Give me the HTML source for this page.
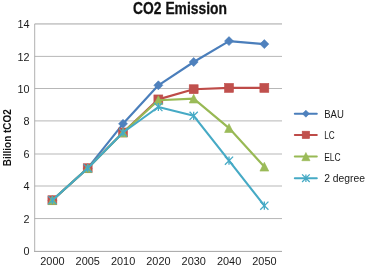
<!DOCTYPE html>
<html><head><meta charset="utf-8"><title>CO2 Emission</title>
<style>
html,body{margin:0;padding:0;background:#fff;}
body{width:367px;height:267px;overflow:hidden;position:relative;font-family:"Liberation Sans",sans-serif;}
svg text{font-family:"Liberation Sans",sans-serif;fill:#1a1a1a;}
.t{font-size:10.8px;}
.ti{font-size:16.4px;font-weight:bold;fill:#111;stroke:#111;stroke-width:0.3px;}
.yt{font-size:11px;font-weight:bold;fill:#111;}
</style></head><body>
<svg width="367" height="267" viewBox="0 0 367 267" style="position:absolute;left:0;top:0;filter:blur(0.3px)">
<rect width="367" height="267" fill="#ffffff"/>
<line x1="34.7" x2="282.0" y1="218.55" y2="218.55" stroke="#a4a4a4" stroke-width="0.8"/>
<line x1="34.7" x2="282.0" y1="186.00" y2="186.00" stroke="#a4a4a4" stroke-width="0.8"/>
<line x1="34.7" x2="282.0" y1="154.00" y2="154.00" stroke="#a4a4a4" stroke-width="0.8"/>
<line x1="34.7" x2="282.0" y1="120.90" y2="120.90" stroke="#a4a4a4" stroke-width="0.8"/>
<line x1="34.7" x2="282.0" y1="88.50" y2="88.50" stroke="#a4a4a4" stroke-width="0.8"/>
<line x1="34.7" x2="282.0" y1="56.40" y2="56.40" stroke="#a4a4a4" stroke-width="0.8"/>
<line x1="34.7" x2="282.0" y1="23.95" y2="23.95" stroke="#8e8e8e" stroke-width="0.8"/>
<line x1="34.7" x2="34.7" y1="23.95" y2="251.0" stroke="#a8a8a8" stroke-width="0.9"/>
<line x1="34.0" x2="282.0" y1="251.4" y2="251.4" stroke="#9a9a9a" stroke-width="0.9"/>
<text x="29.5" y="255.40" text-anchor="end" class="t">0</text>
<text x="29.5" y="222.95" text-anchor="end" class="t">2</text>
<text x="29.5" y="190.40" text-anchor="end" class="t">4</text>
<text x="29.5" y="158.40" text-anchor="end" class="t">6</text>
<text x="29.5" y="125.30" text-anchor="end" class="t">8</text>
<text x="29.5" y="92.90" text-anchor="end" class="t">10</text>
<text x="29.5" y="60.80" text-anchor="end" class="t">12</text>
<text x="29.5" y="28.35" text-anchor="end" class="t">14</text>
<text x="52.46" y="265.0" text-anchor="middle" class="t" textLength="24.3" lengthAdjust="spacingAndGlyphs">2000</text>
<text x="87.79" y="265.0" text-anchor="middle" class="t" textLength="24.3" lengthAdjust="spacingAndGlyphs">2005</text>
<text x="123.12" y="265.0" text-anchor="middle" class="t" textLength="24.3" lengthAdjust="spacingAndGlyphs">2010</text>
<text x="158.45" y="265.0" text-anchor="middle" class="t" textLength="24.3" lengthAdjust="spacingAndGlyphs">2020</text>
<text x="193.78" y="265.0" text-anchor="middle" class="t" textLength="24.3" lengthAdjust="spacingAndGlyphs">2030</text>
<text x="229.11" y="265.0" text-anchor="middle" class="t" textLength="24.3" lengthAdjust="spacingAndGlyphs">2040</text>
<text x="264.44" y="265.0" text-anchor="middle" class="t" textLength="24.3" lengthAdjust="spacingAndGlyphs">2050</text>
<text x="180" y="13.7" text-anchor="middle" class="ti" textLength="93.8" lengthAdjust="spacingAndGlyphs">CO2 Emission</text>
<text transform="translate(11.0,137.7) rotate(-90)" text-anchor="middle" class="yt" textLength="57" lengthAdjust="spacingAndGlyphs">Billion tCO2</text>
<polyline points="52.36,200.20 87.69,168.20 123.02,123.80 158.35,85.30 193.68,62.00 229.01,41.10 264.34,44.10" fill="none" stroke="#4A7EBB" stroke-width="2.15" stroke-linejoin="round" stroke-linecap="round"/>
<path d="M52.36 195.70L56.86 200.20L52.36 204.70L47.86 200.20Z" fill="#4F81BD" stroke="#4A7EBB" stroke-width="0.6"/>
<path d="M87.69 163.70L92.19 168.20L87.69 172.70L83.19 168.20Z" fill="#4F81BD" stroke="#4A7EBB" stroke-width="0.6"/>
<path d="M123.02 119.30L127.52 123.80L123.02 128.30L118.52 123.80Z" fill="#4F81BD" stroke="#4A7EBB" stroke-width="0.6"/>
<path d="M158.35 80.80L162.85 85.30L158.35 89.80L153.85 85.30Z" fill="#4F81BD" stroke="#4A7EBB" stroke-width="0.6"/>
<path d="M193.68 57.50L198.18 62.00L193.68 66.50L189.18 62.00Z" fill="#4F81BD" stroke="#4A7EBB" stroke-width="0.6"/>
<path d="M229.01 36.60L233.51 41.10L229.01 45.60L224.51 41.10Z" fill="#4F81BD" stroke="#4A7EBB" stroke-width="0.6"/>
<path d="M264.34 39.60L268.84 44.10L264.34 48.60L259.84 44.10Z" fill="#4F81BD" stroke="#4A7EBB" stroke-width="0.6"/>
<polyline points="52.36,200.20 87.69,168.20 123.02,132.50 158.35,99.40 193.68,89.20 229.01,87.90 264.34,87.90" fill="none" stroke="#BE4B48" stroke-width="2.15" stroke-linejoin="round" stroke-linecap="round"/>
<rect x="47.91" y="195.75" width="8.90" height="8.90" fill="#C0504D" stroke="#BE4B48" stroke-width="0.6"/>
<rect x="83.24" y="163.75" width="8.90" height="8.90" fill="#C0504D" stroke="#BE4B48" stroke-width="0.6"/>
<rect x="118.57" y="128.05" width="8.90" height="8.90" fill="#C0504D" stroke="#BE4B48" stroke-width="0.6"/>
<rect x="153.90" y="94.95" width="8.90" height="8.90" fill="#C0504D" stroke="#BE4B48" stroke-width="0.6"/>
<rect x="189.23" y="84.75" width="8.90" height="8.90" fill="#C0504D" stroke="#BE4B48" stroke-width="0.6"/>
<rect x="224.56" y="83.45" width="8.90" height="8.90" fill="#C0504D" stroke="#BE4B48" stroke-width="0.6"/>
<rect x="259.89" y="83.45" width="8.90" height="8.90" fill="#C0504D" stroke="#BE4B48" stroke-width="0.6"/>
<polyline points="52.36,200.20 87.69,168.20 123.02,132.50 158.35,100.20 193.68,98.60 229.01,128.10 264.34,166.70" fill="none" stroke="#98B954" stroke-width="2.15" stroke-linejoin="round" stroke-linecap="round"/>
<path d="M52.36 195.80L56.76 204.60L47.96 204.60Z" fill="#9BBB59" stroke="#98B954" stroke-width="0.6"/>
<path d="M87.69 163.80L92.09 172.60L83.29 172.60Z" fill="#9BBB59" stroke="#98B954" stroke-width="0.6"/>
<path d="M123.02 128.10L127.42 136.90L118.62 136.90Z" fill="#9BBB59" stroke="#98B954" stroke-width="0.6"/>
<path d="M158.35 95.80L162.75 104.60L153.95 104.60Z" fill="#9BBB59" stroke="#98B954" stroke-width="0.6"/>
<path d="M193.68 94.20L198.08 103.00L189.28 103.00Z" fill="#9BBB59" stroke="#98B954" stroke-width="0.6"/>
<path d="M229.01 123.70L233.41 132.50L224.61 132.50Z" fill="#9BBB59" stroke="#98B954" stroke-width="0.6"/>
<path d="M264.34 162.30L268.74 171.10L259.94 171.10Z" fill="#9BBB59" stroke="#98B954" stroke-width="0.6"/>
<polyline points="52.36,200.20 87.69,168.20 123.02,132.50 158.35,107.00 193.68,115.80 229.01,160.70 264.34,205.70" fill="none" stroke="#46AAC5" stroke-width="2.15" stroke-linejoin="round" stroke-linecap="round"/>
<path d="M48.26 196.10L56.46 204.30M48.26 204.30L56.46 196.10M52.36 196.10L52.36 204.30" fill="none" stroke="#46AAC5" stroke-width="1.3"/>
<path d="M83.59 164.10L91.79 172.30M83.59 172.30L91.79 164.10M87.69 164.10L87.69 172.30" fill="none" stroke="#46AAC5" stroke-width="1.3"/>
<path d="M118.92 128.40L127.12 136.60M118.92 136.60L127.12 128.40M123.02 128.40L123.02 136.60" fill="none" stroke="#46AAC5" stroke-width="1.3"/>
<path d="M154.25 102.90L162.45 111.10M154.25 111.10L162.45 102.90M158.35 102.90L158.35 111.10" fill="none" stroke="#46AAC5" stroke-width="1.3"/>
<path d="M189.58 111.70L197.78 119.90M189.58 119.90L197.78 111.70M193.68 111.70L193.68 119.90" fill="none" stroke="#46AAC5" stroke-width="1.3"/>
<path d="M224.91 156.60L233.11 164.80M224.91 164.80L233.11 156.60M229.01 156.60L229.01 164.80" fill="none" stroke="#46AAC5" stroke-width="1.3"/>
<path d="M260.24 201.60L268.44 209.80M260.24 209.80L268.44 201.60M264.34 201.60L264.34 209.80" fill="none" stroke="#46AAC5" stroke-width="1.3"/>
<line x1="294.8" x2="316.8" y1="113.7" y2="113.7" stroke="#4A7EBB" stroke-width="2.0" stroke-linecap="round"/>
<path d="M305.90 110.20L309.40 113.70L305.90 117.20L302.40 113.70Z" fill="#4F81BD" stroke="#4A7EBB" stroke-width="0.6"/>
<text x="324.2" y="117.80" class="t" textLength="19.6" lengthAdjust="spacingAndGlyphs">BAU</text>
<line x1="294.8" x2="316.8" y1="134.9" y2="134.9" stroke="#BE4B48" stroke-width="2.0" stroke-linecap="round"/>
<rect x="302.20" y="131.20" width="7.40" height="7.40" fill="#C0504D" stroke="#BE4B48" stroke-width="0.6"/>
<text x="324.2" y="139.00" class="t" textLength="10.5" lengthAdjust="spacingAndGlyphs">LC</text>
<line x1="294.8" x2="316.8" y1="156.6" y2="156.6" stroke="#98B954" stroke-width="2.0" stroke-linecap="round"/>
<path d="M305.90 152.50L310.00 160.70L301.80 160.70Z" fill="#9BBB59" stroke="#98B954" stroke-width="0.6"/>
<text x="324.2" y="160.70" class="t" textLength="16.5" lengthAdjust="spacingAndGlyphs">ELC</text>
<line x1="294.8" x2="316.8" y1="178.2" y2="178.2" stroke="#46AAC5" stroke-width="2.0" stroke-linecap="round"/>
<path d="M302.10 174.40L309.70 182.00M302.10 182.00L309.70 174.40M305.90 174.40L305.90 182.00" fill="none" stroke="#46AAC5" stroke-width="1.3"/>
<text x="324.2" y="182.30" class="t" textLength="40.8" lengthAdjust="spacingAndGlyphs">2 degree</text>
</svg>
</body></html>
